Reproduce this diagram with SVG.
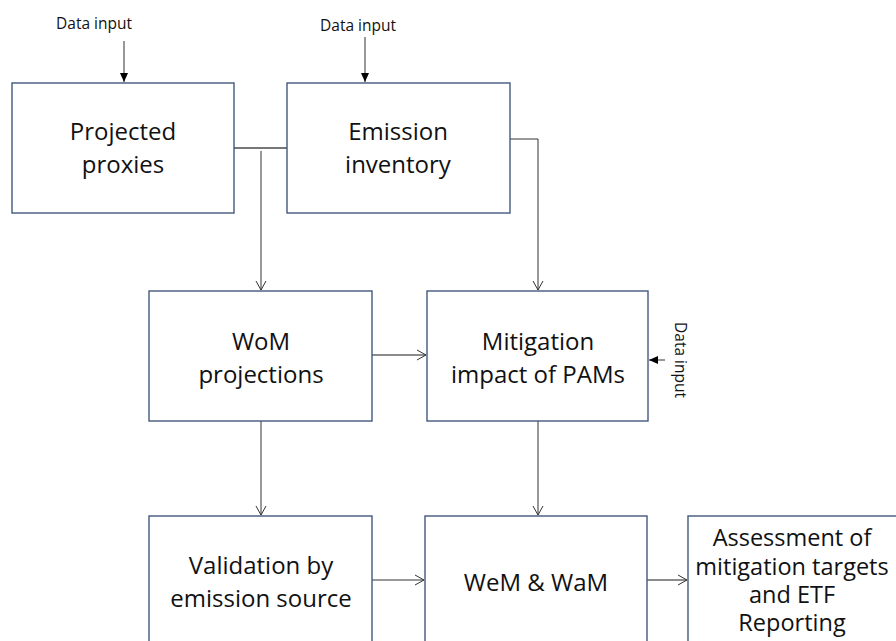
<svg xmlns="http://www.w3.org/2000/svg" width="896" height="641" viewBox="0 0 896 641">
<style>
.box{fill:#fff;stroke:#44577e;stroke-width:1.4}
.t{font-family:"Open Sans","Noto Sans",sans-serif;font-size:24px;fill:#111;text-anchor:middle}
.a{font-family:"Open Sans","Noto Sans",sans-serif;font-size:23.5px;fill:#111;text-anchor:middle}
.s{font-family:"Open Sans","Noto Sans",sans-serif;font-size:15.5px;fill:#111;text-anchor:middle}
.c{fill:none;stroke:#333;stroke-width:1}
.g{fill:none;stroke:#666;stroke-width:1.3}
</style>
<defs>
<marker id="open" markerWidth="12" markerHeight="12" refX="10" refY="6" orient="auto" markerUnits="userSpaceOnUse">
<path d="M1,1 L10,6 L1,11" fill="none" stroke="#333" stroke-width="1"/>
</marker>
<marker id="fill" markerWidth="10" markerHeight="10" refX="9" refY="5" orient="auto" markerUnits="userSpaceOnUse">
<path d="M0,1 L9,5 L0,9 Z" fill="#000"/>
</marker>
</defs>
<g id="connectors">
<line class="c" x1="124" y1="41" x2="124" y2="82" marker-end="url(#fill)"/>
<line class="c" x1="365" y1="37" x2="365" y2="82" marker-end="url(#fill)"/>
<line class="c" x1="665" y1="360" x2="649" y2="360" marker-end="url(#fill)"/>
<line x1="234" y1="148" x2="287" y2="148" stroke="#777" stroke-width="2"/>
<line class="c" x1="261" y1="151" x2="261" y2="290" marker-end="url(#open)"/>
<polyline class="c" points="510,139 538,139 538,290" marker-end="url(#open)"/>
<line class="g" x1="372" y1="355" x2="426" y2="355" marker-end="url(#open)"/>
<line class="c" x1="261" y1="421" x2="261" y2="515" marker-end="url(#open)"/>
<line class="c" x1="538" y1="421" x2="538" y2="515" marker-end="url(#open)"/>
<line class="c" x1="372" y1="580" x2="424" y2="580" marker-end="url(#open)"/>
<line class="g" x1="647" y1="580" x2="687" y2="580" marker-end="url(#open)"/>
</g>
<g id="label-data1"><text class="s" x="94" y="29">Data input</text></g>
<g id="label-data2"><text class="s" x="358" y="31">Data input</text></g>
<g id="label-data3"><text class="s" transform="translate(675,360) rotate(90)" x="0" y="0">Data input</text></g>
<g id="projected">
<rect class="box" x="12" y="83" width="222" height="130"/>
<text class="t" x="123" y="140">Projected</text>
<text class="t" x="123" y="173">proxies</text>
</g>
<g id="emission">
<rect class="box" x="287" y="83" width="223" height="130"/>
<text class="t" x="398" y="140">Emission</text>
<text class="t" x="398" y="173">inventory</text>
</g>
<g id="wom">
<rect class="box" x="149" y="291" width="223" height="130"/>
<text class="t" x="261" y="350">WoM</text>
<text class="t" x="261" y="383">projections</text>
</g>
<g id="mitigation">
<rect class="box" x="427" y="291" width="221" height="130"/>
<text class="t" x="538" y="350">Mitigation</text>
<text class="t" x="538" y="383">impact of PAMs</text>
</g>
<g id="validation">
<rect class="box" x="149" y="516" width="223" height="140"/>
<text class="t" x="261" y="574">Validation by</text>
<text class="t" x="261" y="607">emission source</text>
</g>
<g id="wem">
<rect class="box" x="425" y="516" width="222" height="140"/>
<text class="t" x="536" y="591">WeM &amp; WaM</text>
</g>
<g id="assessment">
<rect class="box" x="688" y="516" width="215" height="140"/>
<text class="a" x="792" y="546">Assessment of</text>
<text class="a" x="792" y="575">mitigation targets</text>
<text class="a" x="792" y="603">and ETF</text>
<text class="a" x="792" y="631">Reporting</text>
</g>
</svg>
